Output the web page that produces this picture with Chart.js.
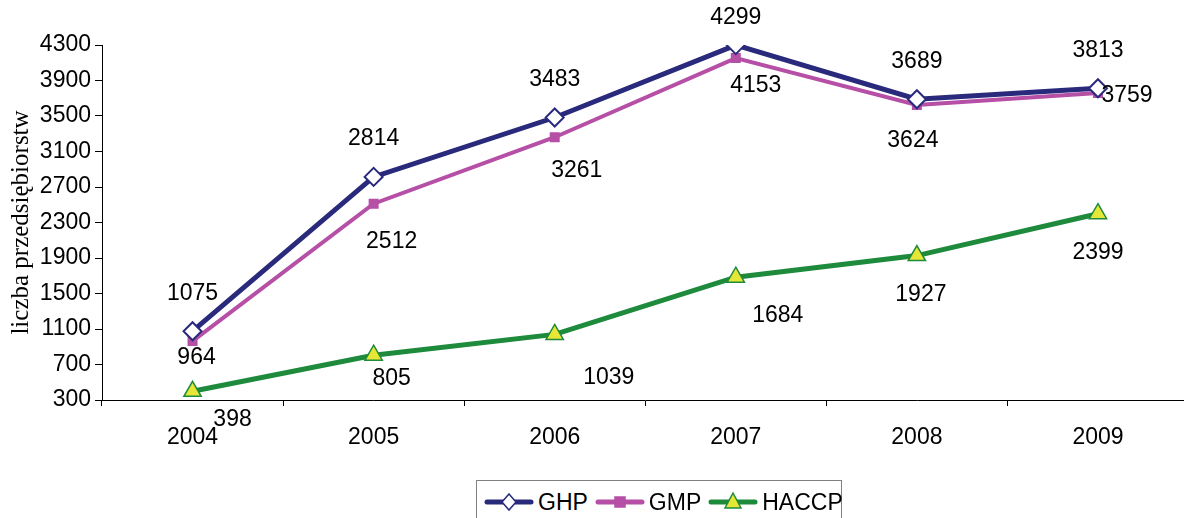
<!DOCTYPE html>
<html>
<head>
<meta charset="utf-8">
<script src="https://cdn.jsdelivr.net/npm/chart.js@4/dist/chart.umd.min.js"></script>
<style>
    html, body { margin: 0; padding: 0; background: #fff; overflow: hidden; }
    #wrap { position: relative; width: 1200px; height: 518px; }
    #legend {
        position: absolute; left: 476px; top: 480px; width: 366px; height: 44px;
        border: 1px solid #808080; box-sizing: border-box; background: #fff;
        font-family: "Liberation Sans", Arial, sans-serif; font-size: 23px; color: #000;
        display: flex; align-items: center; padding-left: 6px;
    }
    #legend span.item { display: flex; align-items: center; margin-right: 6px; }
    #legend canvas { margin-right: 3px; }
</style>
</head>
<body>
<div id="wrap">
    <canvas id="chart" width="1200" height="518"></canvas>
    <div id="legend"></div>
</div>
<script>
// chart data
const years = ['2004', '2005', '2006', '2007', '2008', '2009'];
const ghp = [1075, 2814, 3483, 4299, 3689, 3813];
const gmp = [964, 2512, 3261, 4153, 3624, 3759];
const haccp = [398, 805, 1039, 1684, 1927, 2399];
const yTicks = [300, 700, 1100, 1500, 1900, 2300, 2700, 3100, 3500, 3900, 4300];

// where each value label sits relative to its point (px)
const labelOffsets = {
    GHP: [[0, -38], [0, -38], [0, -38], [0, -27], [0, -38], [0, -38]],
    GMP: [[4, 17], [18, 38], [22, 33], [20, 28], [-4, 36], [29, 3]],
    HACCP: [[40, 28], [18, 23], [54, 43], [42, 38], [4, 39], [0, 39]]
};

const font = '"Liberation Sans", Arial, sans-serif';

const valueLabels = {
    id: 'valueLabels',
    afterDatasetsDraw(chart) {
        const ctx = chart.ctx;
        ctx.save();
        ctx.font = '23px ' + font;
        ctx.fillStyle = '#000';
        ctx.textAlign = 'center';
        ctx.textBaseline = 'middle';
        chart.data.datasets.forEach((ds, i) => {
            const meta = chart.getDatasetMeta(i);
            const offs = labelOffsets[ds.label];
            meta.data.forEach((pt, j) => {
                ctx.fillText(String(ds.data[j]), pt.x + offs[j][0], pt.y + offs[j][1]);
            });
        });
        ctx.restore();
    }
};

const series = [
    { label: 'GHP', data: ghp, color: '#2a2a7c', style: 'rectRot', fill: '#ffffff', radius: 9, width: 5 },
    { label: 'GMP', data: gmp, color: '#b64fa6', style: 'rect', fill: '#b64fa6', radius: 6, width: 4 },
    { label: 'HACCP', data: haccp, color: '#1d8a3c', style: 'triangle', fill: '#e6e636', radius: 10, width: 5 }
];

const chart = new Chart(document.getElementById('chart'), {
    type: 'line',
    data: {
        labels: years,
        datasets: series.map(s => ({
            label: s.label,
            data: s.data,
            borderColor: s.color,
            borderWidth: s.width,
            pointStyle: s.style,
            pointRadius: s.radius,
            pointBackgroundColor: s.fill,
            pointBorderColor: s.color,
            pointBorderWidth: s.style === 'rectRot' ? 2 : 1.5,
            tension: 0
        }))
    },
    options: {
        responsive: false,
        animation: false,
        layout: { padding: { left: 6, top: 45, right: 6, bottom: 0 } },
        plugins: { legend: { display: false }, tooltip: { enabled: false } },
        scales: {
            x: {
                offset: true,
                grid: { display: true, drawOnChartArea: false, offset: true, color: '#000', tickLength: 6 },
                border: { color: '#000', width: 1 },
                ticks: { color: '#000', font: { family: font, size: 23 }, padding: 18 },
                afterFit(scale) { scale.height = 118; }
            },
            y: {
                min: 300, max: 4300,
                afterBuildTicks(scale) { scale.ticks = yTicks.map(v => ({ value: v })); },
                grid: { display: true, drawOnChartArea: false, color: '#000', tickLength: 7 },
                border: { color: '#000', width: 1 },
                ticks: { color: '#000', font: { family: font, size: 23 }, padding: 4, callback: v => String(v) },
                title: {
                    display: true, text: 'liczba przedsiębiorstw', color: '#000',
                    font: { family: '"Liberation Serif", "Times New Roman", serif', size: 25 },
                    padding: { top: 0, bottom: -10 }
                },
                afterFit(scale) { scale.width = 96; }
            }
        }
    },
    plugins: [valueLabels]
});

// legend with line + marker icons
const legend = document.getElementById('legend');
series.forEach(s => {
    const item = document.createElement('span');
    item.className = 'item';
    const icon = document.createElement('canvas');
    icon.width = 52; icon.height = 24;
    const c = icon.getContext('2d');
    c.strokeStyle = s.color;
    c.lineWidth = 5;
    c.lineCap = 'round';
    c.beginPath(); c.moveTo(4, 12); c.lineTo(48, 12); c.stroke();
    c.fillStyle = s.fill;
    c.strokeStyle = s.color;
    c.lineWidth = 1.5;
    c.beginPath();
    if (s.style === 'rectRot') {
        c.moveTo(26, 4); c.lineTo(33, 12); c.lineTo(26, 20); c.lineTo(19, 12); c.closePath();
    } else if (s.style === 'rect') {
        c.rect(21, 7, 10, 10);
    } else {
        c.moveTo(26, 3); c.lineTo(34, 18); c.lineTo(18, 18); c.closePath();
    }
    c.fill(); c.stroke();
    item.appendChild(icon);
    item.appendChild(document.createTextNode(s.label));
    legend.appendChild(item);
});
</script>
</body>
</html>
